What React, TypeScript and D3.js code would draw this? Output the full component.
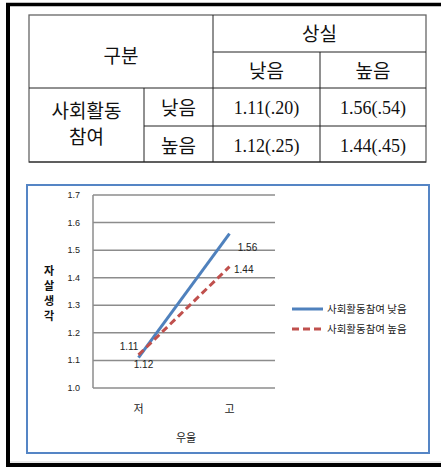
import React from "react";
import * as d3 from "d3";

// Table contents
const lossLevels = ["낮음", "높음"];
const socialLevels = ["낮음", "높음"];
const tableValues = [
  ["1.11(.20)", "1.56(.54)"],
  ["1.12(.25)", "1.44(.45)"],
];

// Chart data: suicidal ideation by depression level
const depression = ["저", "고"];
const socialLow = [1.11, 1.56];
const socialHigh = [1.12, 1.44];
const yTicks = [1.0, 1.1, 1.2, 1.3, 1.4, 1.5, 1.6, 1.7];
const seriesNames = ["사회활동참여 낮음", "사회활동참여 높음"];

const BLUE = "#4F81BD";
const RED = "#C0504D";
const SANS = "'Liberation Sans', Arial, 'Noto Sans CJK KR', sans-serif";
const KR = "'Noto Sans CJK KR', sans-serif";
const SERIF = "'Liberation Serif', 'Noto Sans CJK KR', serif";

export default function App() {
  const W = 441;
  const H = 467;

  // table grid
  const colX = [29, 144, 213, 320, 426];
  const rowY = [15, 52, 88, 126, 162];

  // plot
  const x = d3.scaleBand<string>().domain(depression).range([93, 275]).padding(0);
  const cx = (d: string) => (x(d) as number) + x.bandwidth() / 2;
  const y = d3.scaleLinear().domain([1.0, 1.7]).range([388, 195]);

  const line = d3
    .line<number>()
    .x((_, i) => cx(depression[i]))
    .y((v) => y(v));

  const lowLabelOffsets = [
    { dx: -9.5, dy: -8 },
    { dx: 18, dy: 17 },
  ];
  const highLabelOffsets = [
    { dx: 5, dy: 13.5 },
    { dx: 4.5, dy: 6 },
  ];

  return (
    <svg
      width={W}
      height={H}
      style={{ position: "absolute", left: 0, top: 0, background: "#fff" }}
    >
      {/* outer frame */}
      <line x1={8} y1={3} x2={8} y2={467} stroke="#000" strokeWidth={4} />
      <line x1={6} y1={4.5} x2={441} y2={4.5} stroke="#000" strokeWidth={3.5} />
      <line x1={6} y1={465} x2={441} y2={465} stroke="#000" strokeWidth={4} />
      <line x1={10} y1={462} x2={441} y2={462} stroke="#d0d0d0" strokeWidth={1} />

      {/* table lines */}
      <g stroke="#222" strokeWidth={1} fill="none">
        <rect x={colX[0]} y={rowY[0]} width={colX[4] - colX[0]} height={rowY[4] - rowY[0]} stroke="#666" strokeWidth={1.3} />
        <line x1={colX[2]} y1={rowY[1]} x2={colX[4]} y2={rowY[1]} />
        <line x1={colX[0]} y1={rowY[2]} x2={colX[4]} y2={rowY[2]} />
        <line x1={colX[1]} y1={rowY[3]} x2={colX[4]} y2={rowY[3]} />
        <line x1={colX[0]} y1={rowY[4]} x2={colX[4]} y2={rowY[4]} />
        <line x1={colX[2]} y1={rowY[0]} x2={colX[2]} y2={rowY[4]} />
        <line x1={colX[3]} y1={rowY[1]} x2={colX[3]} y2={rowY[4]} />
        <line x1={colX[1]} y1={rowY[2]} x2={colX[1]} y2={rowY[4]} />
      </g>

      <g fill="#111" textAnchor="middle">
        <text x={(colX[0] + colX[2]) / 2} y={63} fontFamily={KR} fontSize={19}>구분</text>
        <text x={(colX[2] + colX[4]) / 2} y={41} fontFamily={KR} fontSize={19}>상실</text>
        {lossLevels.map((l, i) => (
          <text key={l} x={(colX[2 + i] + colX[3 + i]) / 2} y={78} fontFamily={KR} fontSize={19}>{l}</text>
        ))}
        <text x={(colX[0] + colX[1]) / 2} y={118} fontFamily={KR} fontSize={19}>사회활동</text>
        <text x={(colX[0] + colX[1]) / 2} y={144} fontFamily={KR} fontSize={19}>참여</text>
        {socialLevels.map((l, i) => (
          <text key={l} x={(colX[1] + colX[2]) / 2} y={rowY[2 + i] + 27} fontFamily={KR} fontSize={19}>{l}</text>
        ))}
        {tableValues.map((row, r) =>
          row.map((v, c) => (
            <text key={`${r}-${c}`} x={(colX[2 + c] + colX[3 + c]) / 2} y={rowY[2 + r] + 26} fontFamily={SERIF} fontSize={18}>{v}</text>
          ))
        )}
      </g>

      {/* chart box */}
      <rect x={27} y={185} width={402} height={268} fill="#fff" stroke="#5585C5" strokeWidth={2} />

      {/* gridlines */}
      <g stroke="#8c8c8c" strokeWidth={1.5}>
        {yTicks.map((t) => (
          <line key={t} x1={93} x2={275} y1={y(t)} y2={y(t)} />
        ))}
        <line x1={93} x2={93} y1={y(1.7)} y2={y(1.0)} />
      </g>
      <g fontFamily={SANS} fontSize={9} fill="#222" textAnchor="end">
        {yTicks.map((t) => (
          <text key={t} x={80} y={y(t) + 3}>{t.toFixed(1)}</text>
        ))}
      </g>
      <g fontFamily={KR} fontSize={11} fill="#222" textAnchor="middle">
        {depression.map((d) => (
          <text key={d} x={cx(d)} y={413}>{d}</text>
        ))}
        <text x={186} y={442}>우울</text>
      </g>
      <g fontFamily={KR} fontSize={11} fontWeight="bold" fill="#111" textAnchor="middle">
        {"자살생각".split("").map((ch, i) => (
          <text key={i} x={49} y={275 + i * 15}>{ch}</text>
        ))}
      </g>

      {/* series */}
      <path d={line(socialLow) as string} fill="none" stroke={BLUE} strokeWidth={3} />
      <path d={line(socialHigh) as string} fill="none" stroke={RED} strokeWidth={3} strokeDasharray="7,4" />

      <g fontFamily={SANS} fontSize={10} fill="#222" textAnchor="middle">
        {socialLow.map((v, i) => (
          <text key={`l${i}`} x={cx(depression[i]) + lowLabelOffsets[i].dx} y={y(v) + lowLabelOffsets[i].dy}>{v.toFixed(2)}</text>
        ))}
        {socialHigh.map((v, i) => (
          <text key={`h${i}`} x={cx(depression[i]) + highLabelOffsets[i].dx} y={y(v) + highLabelOffsets[i].dy} textAnchor={i === 1 ? "start" : "middle"}>{v.toFixed(2)}</text>
        ))}
      </g>

      {/* legend */}
      <line x1={292} x2={323} y1={309} y2={309} stroke={BLUE} strokeWidth={3} />
      <line x1={292} x2={323} y1={329} y2={329} stroke={RED} strokeWidth={3} strokeDasharray="7,4" />
      <g fontFamily={KR} fontSize={10.5} fill="#222">
        <text x={327} y={313}>{seriesNames[0]}</text>
        <text x={327} y={333}>{seriesNames[1]}</text>
      </g>
    </svg>
  );
}
